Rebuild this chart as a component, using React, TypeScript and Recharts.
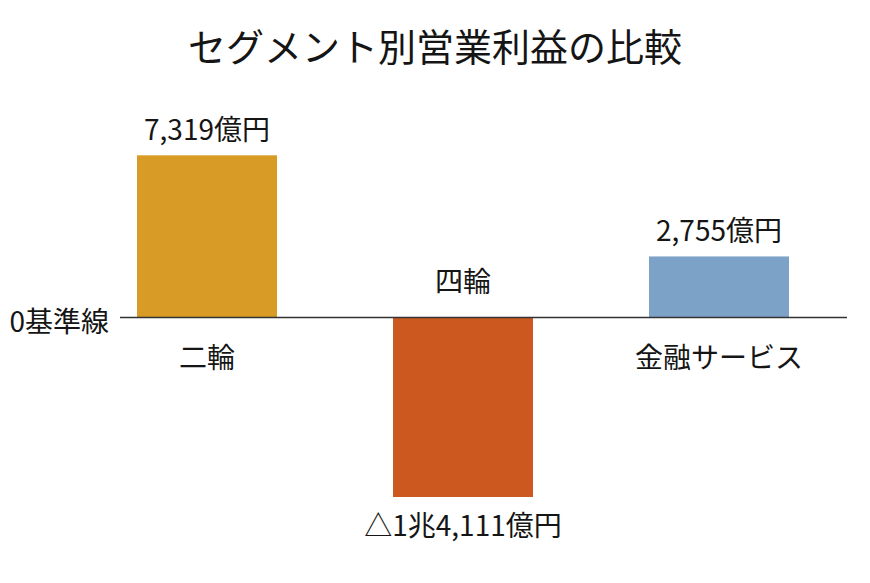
import React from 'react';
import * as R from 'recharts';
import { BarChart, Bar, XAxis, YAxis, ReferenceLine, Cell, LabelList } from 'recharts';

const title = 'セグメント別営業利益の比較';
const categories = ['二輪', '四輪', '金融サービス'];
const values = [7319, -14111, 2755];
const valueLabels = ['7,319億円', '△1兆4,111億円', '2,755億円'];
const colors = ['#D89B26', '#CC5820', '#7CA2C8'];
const baselineLabel = '0基準線';
const yDomain = [-8100, 8100];

const data = categories.map((c, i) => ({ category: c, value: values[i], label: valueLabels[i] }));

const FONT = '"Noto Sans CJK JP", "Noto Sans", sans-serif';
const TEXT = '#151515';
const usePlot: any = (R as any).usePlotArea || (() => null);

function BarShape(props: any) {
  const { x, y, width, height, fill, background, index } = props;
  let top = Math.min(y, y + height);
  let bottom = Math.max(y, y + height);
  if (background) {
    top = Math.max(top, background.y);
    bottom = Math.min(bottom, background.y + background.height);
  }
  return <rect x={x} y={top} width={width} height={bottom - top} fill={fill || colors[index]} />;
}

function BarLabels(props: any) {
  const plot = usePlot();
  const { x, y, width, height, index } = props;
  let top = Math.min(y, y + height);
  let bottom = Math.max(y, y + height);
  if (plot && plot.height) {
    top = Math.max(top, plot.y);
    bottom = Math.min(bottom, plot.y + plot.height);
  }
  const negative = values[index] < 0;
  const cx = x + width / 2;
  const base = negative ? top : bottom;
  return (
    <g>
      <text x={cx} y={negative ? bottom + 27 : top - 27} textAnchor="middle" dominantBaseline="central"
        fontFamily={FONT} fontSize={28} fill={TEXT}>{valueLabels[index]}</text>
      <text x={cx} y={negative ? base - 38 : base + 38} textAnchor="middle" dominantBaseline="central"
        fontFamily={FONT} fontSize={28} fill={TEXT}>{categories[index]}</text>
    </g>
  );
}

function BaseLine(props: any) {
  const { x1, y1, x2, y2 } = props;
  const start = x1 + 41;
  return (
    <g>
      <line x1={start} y1={y1} x2={x2} y2={y2} stroke="#333" strokeWidth={1.5} />
      <text x={start - 11} y={y1 + 2} textAnchor="end" dominantBaseline="central"
        fontFamily={FONT} fontSize={28} fill={TEXT}>{baselineLabel}</text>
    </g>
  );
}

export default function App() {
  return (
    <div style={{ position: 'absolute', left: 0, top: 0, width: 870, height: 583, background: '#fff', fontFamily: FONT }}>
      <div style={{ position: 'absolute', left: 0, top: 19, width: 870, textAlign: 'center', fontSize: 38, color: TEXT, lineHeight: '52px' }}>
        {title}
      </div>
      <div style={{ position: 'absolute', left: 0, top: 0 }}>
        <BarChart width={870} height={583} data={data} margin={{ top: 138, right: 23, bottom: 86, left: 79 }} barSize={140}>
          <XAxis dataKey="category" hide />
          <YAxis hide domain={yDomain} allowDataOverflow type="number" />
          <Bar dataKey="value" isAnimationActive={false} shape={<BarShape />}>
            {data.map((d, i) => (
              <Cell key={d.category} fill={colors[i]} />
            ))}
            <LabelList dataKey="value" content={<BarLabels />} />
          </Bar>
          <ReferenceLine y={0} shape={<BaseLine />} />
        </BarChart>
      </div>
    </div>
  );
}
